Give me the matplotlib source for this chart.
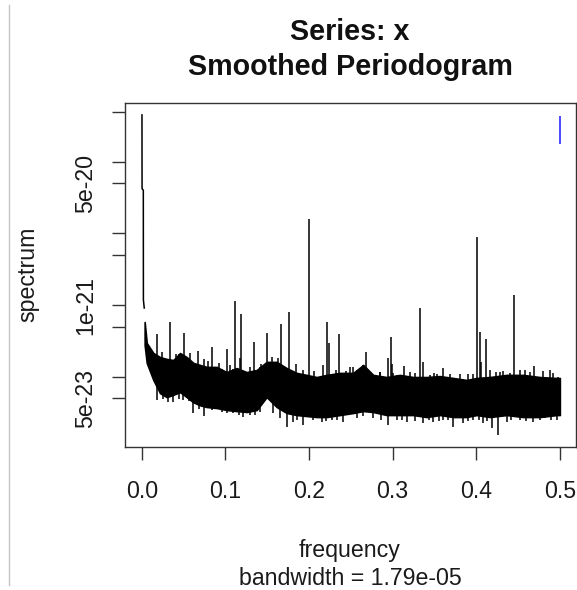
import matplotlib
matplotlib.use("Agg")
import matplotlib.pyplot as plt
from matplotlib.lines import Line2D
import numpy as np

plt.rcParams["font.family"] = ["Liberation Sans", "DejaVu Sans"]

SCALE = 1e-23

# spectrum values below are in units of SCALE
lead_freq = [0.0003, 0.0004, 0.0019, 0.0020, 0.0030]
lead_spec = [45000, 4200, 4000, 118, 91]

# upper / lower edge of the dense noise band
band_freq = [0.0035, 0.0060, 0.0139, 0.0219, 0.0299, 0.0378, 0.0458, 0.0538,
             0.0617, 0.0697, 0.0777, 0.0896, 0.1016, 0.1136, 0.1255, 0.1375,
             0.1494, 0.1614, 0.1733, 0.1853, 0.1972, 0.2092, 0.2211, 0.2370,
             0.2529, 0.2649, 0.2768, 0.2929, 0.3087, 0.3247, 0.3407, 0.3566,
             0.3725, 0.3885, 0.4004, 0.4163, 0.4363, 0.4561, 0.4761, 0.4961,
             0.5000]
band_hi = [58, 29.6, 21.4, 18.8, 17.7, 17.1, 21.4, 18.8,
           15.6, 14.6, 13.7, 13.7, 11.6, 13.2, 11.6, 12.4,
           16.1, 16.1, 13.2, 11.3, 10.6, 9.9, 10.6, 11.3,
           11.3, 14.6, 10.6, 9.9, 10.6, 9.9, 9.9, 10.2,
           9.6, 9.0, 9.6, 9.9, 10.6, 10.6, 9.9, 9.6,
           9.6]
band_lo = [27.7, 15.6, 9.0, 5.9, 5.2, 5.6, 6.1, 5.2,
           4.4, 4.0, 3.78, 3.66, 3.43, 3.32, 3.22, 3.43,
           5.2, 3.78, 3.12, 2.92, 2.83, 2.74, 2.74, 2.92,
           3.12, 3.32, 3.22, 2.92, 2.92, 2.92, 2.74, 2.92,
           2.74, 2.74, 2.92, 2.74, 2.92, 2.74, 2.74, 2.92,
           2.92]

# tall lines and short ragged lines above the band
peak_freq = [0.0179, 0.0338, 0.0509, 0.0673, 0.0745, 0.0837, 0.1014, 0.1119,
             0.1187, 0.1348, 0.1494, 0.1669, 0.1758, 0.1844, 0.2006, 0.2164,
             0.2217, 0.2236, 0.2364, 0.2490, 0.2681, 0.2944, 0.2976, 0.2998,
             0.3139, 0.3330, 0.3368, 0.3598, 0.4007, 0.4041, 0.4058, 0.4112,
             0.4159, 0.4322, 0.4453, 0.4582, 0.4695, 0.4881,
             0.0924, 0.1175, 0.2530, 0.2650, 0.2848, 0.3213, 0.3273, 0.3446,
             0.3526, 0.3691, 0.3905, 0.4290, 0.4409, 0.4522, 0.4800, 0.4976,
             0.0240, 0.0410, 0.0580, 0.0790, 0.1060, 0.1290, 0.1430, 0.1560,
             0.1630, 0.1930, 0.2060, 0.2320, 0.2440, 0.2850, 0.3010, 0.3490,
             0.3800, 0.3960, 0.4240, 0.4640, 0.4920]
peak_spec = [39.4, 58.6, 40.7, 22.9, 17.7, 26.4, 24.4, 115,
             76, 30.5, 40.7, 54.4, 80, 15.1, 1574, 14.6,
             58.6, 29.6, 39.0, 13.7, 22.1, 18.3, 35.3, 15.1,
             14.1, 90, 16.1, 13.2, 882, 42.5, 16.2, 33.3,
             12.4, 12.2, 139.5, 12.4, 14.1, 12.4,
             15.6, 18.3, 13.7, 13.2, 11.6, 11.8, 11.3, 10.6,
             10.9, 11.0, 10.9, 11.6, 11.3, 12.4, 12.0, 9.9,
             22.0, 21.0, 21.5, 16.5, 14.6, 13.7, 15.0, 19.0,
             18.0, 12.6, 12.0, 12.4, 12.0, 11.8, 11.4, 11.2,
             11.0, 10.8, 11.6, 11.8, 11.2]

# short lines reaching below the band
dip_freq = [0.0179, 0.0318, 0.0378, 0.0497, 0.0617, 0.0745, 0.0837, 0.0956,
            0.1095, 0.1215, 0.1295, 0.1414, 0.1573, 0.1653, 0.1733, 0.1812,
            0.1932, 0.2012, 0.2051, 0.2152, 0.2271, 0.2410, 0.2570, 0.2768,
            0.2948, 0.3048, 0.3168, 0.3366, 0.3486, 0.3606, 0.3725, 0.3844,
            0.3964, 0.4083, 0.4184, 0.4263, 0.4363, 0.4522, 0.4681, 0.4821,
            0.4961,
            0.0260, 0.0440, 0.0560, 0.0690, 0.1020, 0.1160, 0.1350, 0.1860,
            0.2200, 0.2340, 0.2650, 0.2860, 0.3110, 0.3270, 0.3430, 0.3550,
            0.3660, 0.3900, 0.4030, 0.4130, 0.4420, 0.4600, 0.4760, 0.4890]
dip_spec = [4.7, 4.4, 4.4, 4.7, 3.12, 2.8, 3.43, 3.22,
            3.12, 2.74, 2.92, 3.22, 3.12, 2.66, 1.99, 2.33,
            2.12, 2.77, 2.49, 2.33, 2.49, 2.33, 2.66, 2.66,
            2.12, 2.49, 2.33, 2.26, 2.33, 2.49, 1.99, 2.26,
            2.49, 2.26, 1.93, 1.54, 2.33, 2.49, 2.33, 2.66,
            2.49,
            4.9, 4.9, 4.6, 3.6, 3.1, 2.9, 2.9, 2.5,
            2.4, 2.5, 2.8, 2.5, 2.5, 2.4, 2.5, 2.4,
            2.5, 2.4, 2.5, 2.4, 2.5, 2.4, 2.5, 2.5]

ci_freq = 0.5
ci_spec = [17500, 43900]

xticks = [0.0, 0.1, 0.2, 0.3, 0.4, 0.5]
yticks = [5e-19, 1e-19, 5e-20, 1e-20, 5e-21, 1e-21, 5e-22, 1e-22, 5e-23]
ytick_labels = ["", "", "5e-20", "", "", "1e-21", "", "", "5e-23"]

W, H = 577, 590
fig = plt.figure(figsize=(W / 100, H / 100), dpi=100)
ax = fig.add_axes([125 / W, 1 - 447 / H, (576 - 125) / W, (447 - 102.7) / H])

bf = np.array(band_freq)
hi = np.array(band_hi) * SCALE
lo = np.array(band_lo) * SCALE

ax.fill_between(bf, lo, hi, color="black", linewidth=1.2)
ax.plot(lead_freq, np.array(lead_spec) * SCALE, color="black", lw=1.1)

pf = np.array(peak_freq)
ax.vlines(pf, np.interp(pf, bf, lo), np.array(peak_spec) * SCALE,
          color="black", lw=1.1)
df = np.array(dip_freq)
ax.vlines(df, np.array(dip_spec) * SCALE, np.interp(df, bf, hi),
          color="black", lw=1.1)

ax.vlines(ci_freq, ci_spec[0] * SCALE, ci_spec[1] * SCALE,
          color="#3c3cff", lw=1.3)

ax.set_yscale("log")
ax.set_xlim(-0.02, 0.5193)
ax.set_ylim(1.046e-23, 6.66e-19)

ax.set_xticks(xticks)
ax.set_xticklabels(["%.1f" % t for t in xticks])
ax.set_yticks(yticks)
ax.set_yticklabels(ytick_labels)
ax.yaxis.set_minor_locator(matplotlib.ticker.NullLocator())

ax.tick_params(axis="both", length=9.7, width=1.0, color="#333333",
               labelsize=16.7, labelcolor="#1a1a1a")
ax.tick_params(axis="x", pad=14)
ax.tick_params(axis="y", pad=14.2)
for lab in ax.get_yticklabels():
    lab.set_rotation(90)
    lab.set_rotation_mode("anchor")
    lab.set_ha("center")
    lab.set_va("baseline")

for sp in ax.spines.values():
    sp.set_linewidth(1.0)
    sp.set_color("#333333")

fig.text(350 / W, 1 - 40 / H, "Series: x", ha="center", va="baseline",
         fontsize=20.6, fontweight="bold", color="#111111")
fig.text(350 / W, 1 - 75 / H, "Smoothed Periodogram", ha="center",
         va="baseline", fontsize=20.6, fontweight="bold", color="#111111")

fig.text(350 / W, 1 - 557 / H, "frequency", ha="center", va="baseline",
         fontsize=16.7, color="#1a1a1a")
fig.text(350 / W, 1 - 585 / H, "bandwidth = 1.79e-05", ha="center",
         va="baseline", fontsize=16.7, color="#1a1a1a")
fig.text(34 / W, 1 - 274 / H, "spectrum", ha="center", va="baseline",
         rotation=90, rotation_mode="anchor", fontsize=16.7,
         color="#1a1a1a")

fig.add_artist(Line2D([8.5 / W, 8.5 / W], [1 - 5 / H, 1 - 585 / H],
                      color="#c4c4c4", lw=1.0))

fig.savefig("out.png", dpi=100)
